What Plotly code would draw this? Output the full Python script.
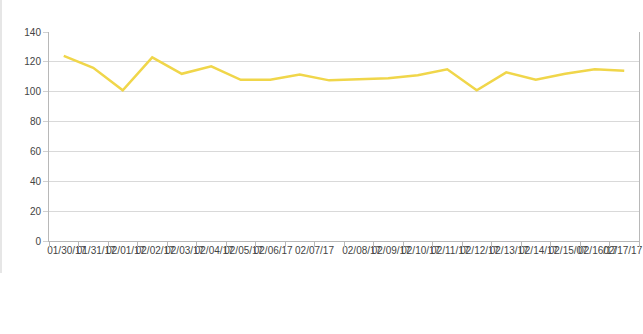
import plotly.graph_objects as go

# Data
point_index = list(range(20))
values = [124, 116, 101, 123, 112, 117, 108, 108, 111.5, 107.6,
          108.3, 109, 111, 115, 101, 113, 108, 112, 115, 114]

tick_labels = ["01/30/17", "01/31/17", "02/01/17", "02/02/17", "02/03/17",
               "02/04/17", "02/05/17", "02/06/17", "02/07/17", "02/08/17",
               "02/09/17", "02/10/17", "02/11/17", "02/12/17", "02/13/17",
               "02/14/17", "02/15/07", "02/16/17", "02/17/17"]
tick_pos = [0.1, 1.1, 2.1, 3.1, 4.1, 5.1, 6.1, 7.1, 8.5, 10.1,
            11.1, 12.1, 13.1, 14.1, 15.1, 16.1, 17.1, 18.1, 18.95]
boundaries = [i - 0.5 for i in range(21)]

y_ticks = [0, 20, 40, 60, 80, 100, 120, 140]

font = dict(family="Liberation Sans, Arial, sans-serif", size=10, color="#444444")

fig = go.Figure()
fig.add_trace(go.Scatter(
    x=point_index, y=values, mode="lines",
    line=dict(color="#F0D64A", width=2.5),
    hoverinfo="skip", showlegend=False,
))
# invisible trace on the second x axis so its ticks are drawn
fig.add_trace(go.Scatter(
    x=[boundaries[0], boundaries[-1]], y=[0, 0], xaxis="x2", mode="lines",
    line=dict(width=0), hoverinfo="skip", showlegend=False, opacity=0,
))

fig.update_layout(
    width=643, height=334,
    margin=dict(l=49, r=4, t=32, b=93),
    paper_bgcolor="white", plot_bgcolor="white",
    font=font,
    xaxis=dict(
        range=[-0.5, 19.5], tickmode="array", tickvals=tick_pos, ticktext=tick_labels,
        tickangle=0, showgrid=False, zeroline=False, ticks="", ticklen=0,
        showline=True, linecolor="#b8b8b8", linewidth=1,
        tickfont=font, automargin=False,
    ),
    xaxis2=dict(
        overlaying="x", range=[-0.5, 19.5], tickmode="array", tickvals=boundaries,
        showticklabels=False, ticks="outside", ticklen=5, tickcolor="#b8b8b8",
        showgrid=False, zeroline=False, showline=False, side="bottom",
        automargin=False,
    ),
    yaxis=dict(
        range=[0, 140], tickmode="array", tickvals=y_ticks,
        showgrid=True, gridcolor="#d9d9d9", gridwidth=1, zeroline=False,
        ticks="outside", ticklen=5, tickcolor="#d0d0d0",
        showline=True, linecolor="#b8b8b8", linewidth=1, mirror=True,
        tickfont=font, automargin=False,
    ),
    shapes=[dict(type="line", xref="paper", yref="paper", x0=-48/590, x1=-48/590,
                 y0=-32 / 209, y1=1.2, line=dict(color="#e6e6e6", width=2))],
)

fig.write_html("out.html")
